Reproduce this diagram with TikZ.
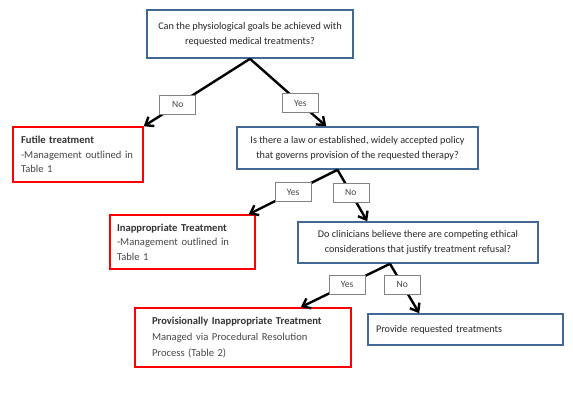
\documentclass[tikz,border=0pt]{standalone}
\usepackage{fontspec}
\setmainfont{Carlito}
\usetikzlibrary{arrows.meta}
\definecolor{boxblue}{RGB}{65,104,150}
\definecolor{boxred}{RGB}{255,0,0}
\definecolor{txtgray}{RGB}{70,70,70}
\definecolor{lblgray}{RGB}{130,130,130}

\begin{document}
\begin{tikzpicture}[x=1pt,y=-1pt,
  question/.style={draw=boxblue,line width=1.6pt,rectangle,align=center,font=\fontsize{10.2}{15}\selectfont,text=black!85,inner sep=0pt},
  outcome/.style={draw=boxred,line width=1.6pt,rectangle,align=left,font=\fontsize{10.6}{14.5}\selectfont,text=txtgray,inner ysep=0pt},
  answer/.style={draw=lblgray,line width=0.6pt,fill=white,rectangle,font=\fontsize{9.6}{10}\selectfont,text=txtgray,minimum width=36pt,minimum height=19pt,inner sep=0pt},
  branch/.style={-{Straight Barb[length=7pt,width=11pt]},line width=2.4pt}]
\useasboundingbox (0,0) rectangle (573,392);

\node[question,minimum width=206pt,minimum height=48pt] (goals) at (250,34) {Can the physiological goals be achieved with\\requested medical treatments?};
\node[outcome,text width=114pt,inner xsep=8pt,minimum height=55pt] (futile) at (78,154.5) {\textbf{\color{black!80}Futile treatment}\\-Management outlined in\\Table 1};
\node[question,minimum width=241pt,minimum height=42pt] (policy) at (357.5,148) {Is there a law or established, widely accepted policy\\that governs provision of the requested therapy?};
\node[outcome,text width=131pt,inner xsep=7pt,minimum height=54pt] (inapp) at (182.5,242) {\textbf{\color{black!80}Inappropriate Treatment}\\-Management outlined in\\Table 1};
\node[question,minimum width=240pt,minimum height=41pt] (ethics) at (418,242.5) {Do clinicians believe there are competing ethical\\considerations that justify treatment refusal?};
\node[outcome,text width=182pt,inner xsep=17pt,minimum height=59pt,font=\fontsize{10.6}{16}\selectfont] (prov) at (243,337.5) {\textbf{\color{black!80}Provisionally Inappropriate Treatment}\\Managed via Procedural Resolution\\Process (Table 2)};
\node[question,align=left,text width=179pt,inner xsep=8pt,minimum height=31pt,font=\fontsize{10.2}{12}\selectfont] (provide) at (465.5,329.5) {Provide requested treatments};

\draw[branch] (goals.south) -- node[answer,pos=0.68] {No} (futile.north east);
\draw[branch] (goals.south) -- node[answer,pos=0.66] {Yes} ([xshift=90pt]policy.north west);
\draw[branch] ([xshift=-20pt]policy.south) -- node[answer,pos=0.5] {Yes} ([xshift=-7pt]inapp.north east);
\draw[branch] ([xshift=-20pt]policy.south) -- node[answer,pos=0.45] {No} ([xshift=70pt]ethics.north west);
\draw[branch] ([xshift=-28pt]ethics.south) -- node[answer,pos=0.48] {Yes} ([xshift=-51pt]prov.north east);
\draw[branch] ([xshift=-28pt]ethics.south) -- node[answer,pos=0.42] {No} ([xshift=52pt]provide.north west);
\end{tikzpicture}
\end{document}
